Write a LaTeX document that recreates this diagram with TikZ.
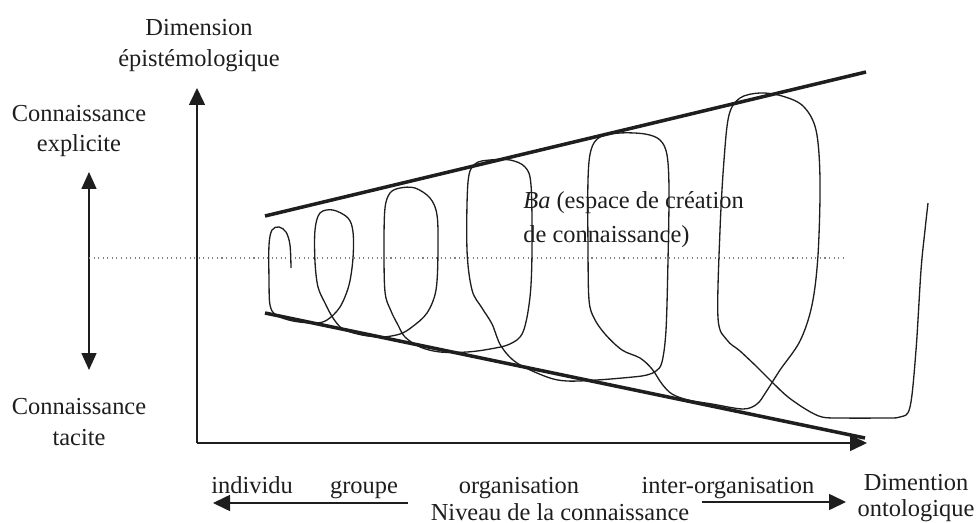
\documentclass[tikz,border=0pt]{standalone}
\usepackage{fontspec}
\setmainfont{Liberation Serif}
\usepackage{tikz}
\usetikzlibrary{arrows.meta,positioning,calc}
\definecolor{ink}{RGB}{30,30,30}
\tikzset{
  axarr/.style={-{Triangle[length=3.4mm,width=3.2mm]}, ink, line width=0.9pt},
  dblarr/.style={{Triangle[length=3.4mm,width=3.0mm]}-{Triangle[length=3.4mm,width=3.0mm]}, ink, line width=0.9pt},
  cone/.style={ink, line width=2pt},
  crv/.style={ink, line width=0.75pt},
  dotl/.style={gray, dotted, line width=0.6pt},
  lbl/.style={font=\fontsize{13.9}{17.6}\selectfont, text=ink, inner sep=0pt, align=center},
}

\begin{document}
\begin{tikzpicture}[x=0.02cm, y=-0.02cm]
    \useasboundingbox (0,0) rectangle (979,523);
    % axes
    \coordinate (O) at (197,443);
    \coordinate (ytip) at (197,88);
    \coordinate (xtip) at (867,443);
    \draw[axarr] (O) -- (ytip);
    \draw[axarr] (O) -- (xtip);
    % tacit / explicit
    \coordinate (expl) at (89,172);
    \coordinate (tac) at (89,370);
    \draw[dblarr] (tac) -- (expl);
    \coordinate (dotA) at (89,258);
    \coordinate (dotB) at (845,258);
    \draw[dotl] (dotA) -- (dotB);
    % the cone
    \coordinate (topL) at (265,216);
    \coordinate (topR) at (866,72);
    \coordinate (botL) at (265,313);
    \coordinate (botR) at (865,438);
    \draw[cone] (topL) -- (topR);
    \draw[cone] (botL) -- (botR);
    % spiral of ba
    \draw[crv] plot[smooth, tension=0.55] coordinates {
      (291,268) (290,245) (286,232) (279,227) (272,230) (269,245) (269,280)
      (270,305) (276,315) (293,321) (315,323) (327,320)
      (340,307) (349,285) (353,258) (353,232) (348,218) (333,210) (320,213)
      (315,230) (315,262) (318,287) (325,303) (333,318) (343,329) (362,335) (382,337)
      (400,334) (412,327) (427,313) (436,290) (438,250) (437,215) (430,198)
      (415,188) (400,188) (390,193) (385,208) (384,245) (385,292) (391,311)
      (398,325) (405,337) (420,347) (440,352) (467,352) (490,349)
      (510,344) (523,332) (530,297) (532,250) (531,185) (525,167) (510,160)
      (490,160) (475,164) (468,182) (467,250) (472,290) (482,308) (492,324)
      (501,346) (517,363) (547,377) (567,381) (597,380) (633,377) (647,375)
      (656,371) (662,362) (666,330) (668,260) (669,190) (667,155) (660,140)
      (645,134) (620,133) (600,137) (591,150) (588,180) (588,250) (589,300)
      (594,318) (605,334) (622,350) (640,358) (652,369) (662,384) (672,394)
      (688,400) (712,404) (743,409) (757,404) (766,392) (780,370) (800,341)
      (812,305) (818,255) (820,180) (816,130) (803,106) (782,96) (760,93)
      (740,98) (729,115) (724,160) (720,230) (718,318) (727,340) (740,351)
      (757,367) (773,383) (788,397) (807,410) (822,417) (840,418) (880,418)
      (900,417) (910,407) (916,350) (921,270) (925,230) (928,203)
    };
    % labels
    \node[lbl] (dimepi) at (199,46) {Dimension\\épistémologique};
    \node[lbl] (cexpl) at (79,131) {Connaissance\\explicite};
    \node[lbl] (ctac) at (79,422) {Connaissance\\tacite};
    \node[lbl, anchor=west, align=left, font=\fontsize{13.9}{19.3}\selectfont] (ba) at (523,220)
      {\textit{Ba} (espace de création\\de connaissance)};
    \node[lbl, anchor=base] (indiv) at (252,493) {individu};
    \node[lbl, anchor=base] (grp) at (364,493) {groupe};
    \node[lbl, anchor=base] (orga) at (519,493) {organisation};
    \node[lbl, anchor=base] (inter) at (728,493) {inter-organisation};
    \node[lbl, anchor=base] (niv) at (560,520) {Niveau de la connaissance};
    \node[lbl, font=\fontsize{13.9}{14.4}\selectfont] (dimont) at (916,498) {Dimention\\ontologique};
    % level arrows
    \coordinate (lvlA) at (408,503);
    \coordinate (lvlB) at (213,503);
    \coordinate (lvlC) at (702,502);
    \coordinate (lvlD) at (846,502);
    \draw[axarr] (lvlA) -- (lvlB);
    \draw[axarr] (lvlC) -- (lvlD);
\end{tikzpicture}
\end{document}
